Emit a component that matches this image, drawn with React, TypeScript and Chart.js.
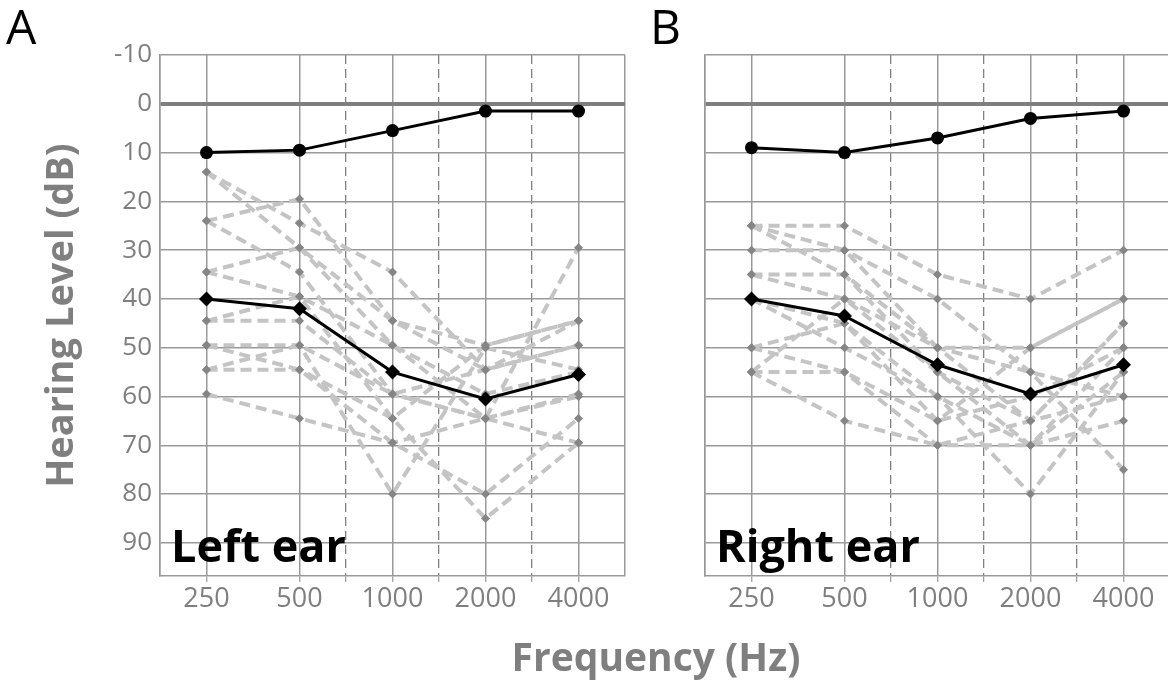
import React, { useEffect, useRef } from 'react';
import { Chart, registerables } from 'chart.js';

Chart.register(...registerables);

const FONT = '"Open Sans"';
const GRAY_TEXT = '#7f7f7f';

const frequencies = ['250', '500', '1000', '2000', '4000'];
const yTickValues = [-10, 0, 10, 20, 30, 40, 50, 60, 70, 80, 90];
const xGridSteps = [-0.5, 0, 1, 1.5, 2, 2.5, 3, 3.5, 4, 4.5];

// Left ear
const leftNormal = [10, 9.5, 5.5, 1.5, 1.5];
const leftMean = [40, 42, 55, 60.5, 55.5];
const leftSubjects: number[][] = [
  [14, 29.5, 49.5, 64.5, 59.5],
  [14, 24.5, 34.5, 54.5, 44.5],
  [24, 19.5, 44.5, 54.5, 49.5],
  [24, 34.5, 59.5, 64.5, 69.5],
  [34.5, 29.5, 44.5, 49.5, 44.5],
  [34.5, 39.5, 49.5, 59.5, 55],
  [44.5, 44.5, 59.5, 64.5, 60],
  [44.5, 39.5, 64.5, 85, 69.5],
  [49.5, 54.5, 69.5, 80, 64.5],
  [49.5, 49.5, 80, 50, 54.5],
  [54.5, 49.5, 59.5, 54.5, 49.5],
  [54.5, 54.5, 64.5, 49.5, 44.5],
  [59.5, 64.5, 69.5, 64.5, 29.5],
];

// Right ear
const rightNormal = [9, 10, 7, 3, 1.5];
const rightMean = [40, 43.5, 53.5, 59.5, 53.5];
const rightSubjects: number[][] = [
  [25, 25, 35, 40, 30],
  [25, 30, 50, 50, 40],
  [25, 35, 55, 65, 45],
  [30, 30, 40, 55, 75],
  [35, 35, 50, 65, 60],
  [35, 40, 55, 70, 50],
  [40, 45, 60, 70, 55],
  [40, 50, 60, 80, 55],
  [50, 45, 65, 50, 40],
  [55, 55, 70, 70, 65],
  [55, 65, 70, 65, 45],
  [55, 40, 50, 55, 60],
  [50, 55, 65, 60, 50],
];

const toPoints = (vals: number[]) => vals.map((v, i) => ({ x: i, y: v }));

const isHalfStep = (ctx: any) =>
  !!ctx.tick && ctx.tick.value > 0 && ctx.tick.value < 4 && ctx.tick.value % 1 !== 0;

const earLabelPlugin = {
  id: 'earLabel',
  afterDatasetsDraw(chart: any, _args: any, opts: any) {
    if (!opts || !opts.text) return;
    const { ctx, chartArea } = chart;
    ctx.save();
    ctx.font = `bold ${opts.size}px ${FONT}`;
    ctx.fillStyle = '#000';
    ctx.textBaseline = 'alphabetic';
    ctx.textAlign = 'left';
    ctx.fillText(opts.text, chartArea.left + opts.dx, chartArea.bottom - opts.dy);
    ctx.restore();
  },
};

function makeConfig(
  normal: number[],
  mean: number[],
  subjects: number[][],
  earText: string,
  isLeft: boolean,
  yAxisWidth: number
): any {
  const datasets: any[] = [
    {
      data: toPoints(mean),
      borderColor: '#000',
      backgroundColor: '#000',
      borderWidth: 3,
      pointStyle: 'rectRot',
      pointRadius: 7.5,
      pointBorderWidth: 0,
    },
    {
      data: toPoints(normal),
      borderColor: '#000',
      backgroundColor: '#000',
      borderWidth: 3,
      pointStyle: 'circle',
      pointRadius: 6.5,
      pointBorderWidth: 0,
    },
    ...subjects.map((s) => ({
      data: toPoints(s),
      borderColor: '#c4c4c4',
      backgroundColor: '#858585',
      borderWidth: 4,
      borderDash: [11, 6],
      pointStyle: 'rectRot',
      pointRadius: 4.5,
      pointBorderWidth: 0,
    })),
  ];

  return {
    type: 'line',
    data: { datasets },
    plugins: [earLabelPlugin],
    options: {
      animation: false,
      responsive: false,
      events: [],
      layout: { padding: { top: 55, right: 15, left: 0, bottom: 0 } },
      plugins: {
        legend: { display: false },
        tooltip: { enabled: false },
        earLabel: { text: earText, size: 45, dx: 11, dy: 14 },
      },
      scales: {
        x: {
          type: 'linear',
          min: -0.5,
          max: 4.5,
          afterBuildTicks: (scale: any) => {
            scale.ticks = xGridSteps.map((v) => ({ value: v }));
          },
          afterFit: (scale: any) => {
            scale.height = 110;
          },
          ticks: {
            autoSkip: false,
            maxRotation: 0,
            minRotation: 0,
            padding: 1,
            color: GRAY_TEXT,
            font: { family: FONT, size: 27 },
            callback: (v: number) =>
              Number.isInteger(v) && v >= 0 && v < frequencies.length ? frequencies[v] : '',
          },
          grid: {
            color: (ctx: any) => (isHalfStep(ctx) ? '#808080' : '#999999'),
            lineWidth: (ctx: any) => (isHalfStep(ctx) ? 1.3 : 1.5),
            tickLength: 6,
            tickColor: (ctx: any) =>
              ctx.tick && (ctx.tick.value === -0.5 || ctx.tick.value === 4.5) ? 'rgba(0,0,0,0)' : '#999999',
            tickWidth: 1.2,
          },
          border: {
            display: true,
            color: '#999999',
            width: 1.5,
            dash: (ctx: any) => (isHalfStep(ctx) ? [9, 5] : []),
          },
        },
        y: {
          type: 'linear',
          reverse: true,
          min: -10,
          max: 96.8,
          afterBuildTicks: (scale: any) => {
            scale.ticks = yTickValues.map((v) => ({ value: v }));
          },
          afterFit: (scale: any) => {
            scale.width = yAxisWidth;
          },
          ticks: {
            display: isLeft,
            padding: 8,
            color: GRAY_TEXT,
            font: { family: FONT, size: 26 },
            callback: (v: number) => String(v),
          },
          grid: {
            drawTicks: false,
            color: (ctx: any) => (ctx.tick && ctx.tick.value === 0 ? '#7f7f7f' : '#999999'),
            lineWidth: (ctx: any) => (ctx.tick && ctx.tick.value === 0 ? 4 : 1.5),
          },
          border: { display: true, color: '#999999', width: 1.5 },
          title: {
            display: isLeft,
            text: 'Hearing Level (dB)',
            color: GRAY_TEXT,
            font: { family: FONT, size: 38, weight: 'bold' },
            padding: { top: 39, bottom: 0 },
          },
        },
      },
    },
  };
}

export default function App() {
  const leftRef = useRef<HTMLCanvasElement | null>(null);
  const rightRef = useRef<HTMLCanvasElement | null>(null);

  useEffect(() => {
    const charts: Chart[] = [];
    if (leftRef.current) {
      charts.push(new Chart(leftRef.current, makeConfig(leftNormal, leftMean, leftSubjects, 'Left ear', true, 160)));
    }
    if (rightRef.current) {
      charts.push(new Chart(rightRef.current, makeConfig(rightNormal, rightMean, rightSubjects, 'Right ear', false, 65)));
    }
    return () => charts.forEach((c) => c.destroy());
  }, []);

  return (
    <div
      style={{
        position: 'absolute',
        left: 0,
        top: 0,
        width: 1168,
        height: 686,
        overflow: 'hidden',
        background: '#fff',
        fontFamily: FONT,
      }}
    >
      <canvas ref={leftRef} width={640} height={686} style={{ position: 'absolute', left: 0, top: 0 }} />
      <canvas ref={rightRef} width={545} height={686} style={{ position: 'absolute', left: 640, top: 0 }} />
      <div style={{ position: 'absolute', left: 6, top: 2, fontSize: 48, lineHeight: 1, color: '#000' }}>A</div>
      <div style={{ position: 'absolute', left: 650, top: 2, fontSize: 48, lineHeight: 1, color: '#000' }}>B</div>
      <div
        style={{
          position: 'absolute',
          left: 0,
          width: 1312,
          top: 636,
          textAlign: 'center',
          fontSize: 39,
          lineHeight: 1,
          fontWeight: 'bold',
          color: GRAY_TEXT,
        }}
      >
        Frequency (Hz)
      </div>
    </div>
  );
}
